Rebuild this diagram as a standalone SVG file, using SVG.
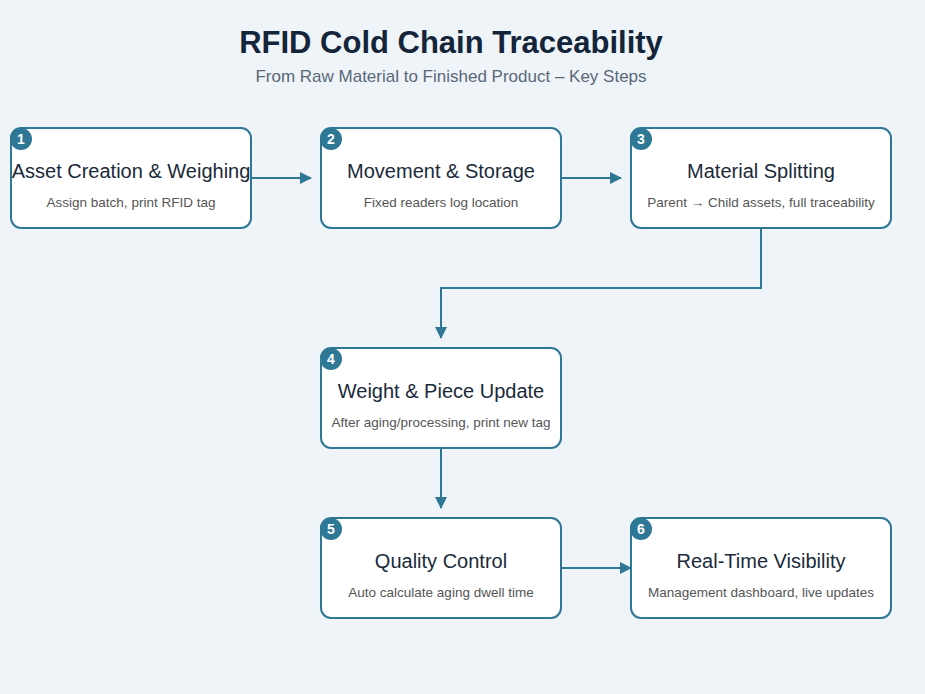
<svg xmlns="http://www.w3.org/2000/svg" width="925" height="694" viewBox="0 0 925 694">
<defs>
<marker id="ah" markerWidth="12" markerHeight="12" refX="11" refY="6" orient="auto" markerUnits="userSpaceOnUse"><path d="M0,0 L12,6 L0,12 z" fill="#2e7896"/></marker>
<style>
.box{fill:#fff;stroke:#2e7896;stroke-width:2}
.badge{fill:#2e7896}
.num{font:bold 14px "Liberation Sans",Arial,sans-serif;fill:#fff;text-anchor:middle}
.t{font:20px "Liberation Sans",Arial,sans-serif;fill:#1a2a3a;text-anchor:middle}
.s{font:13.5px "Liberation Sans",Arial,sans-serif;fill:#555;text-anchor:middle}
.c{fill:none;stroke:#2e7896;stroke-width:2}
</style>
</defs>
<rect width="925" height="694" fill="#eef4f8"/>
<text x="451" y="53" text-anchor="middle" style="font:bold 31px 'Liberation Sans',Arial,sans-serif;fill:#14253a">RFID Cold Chain Traceability</text>
<text x="451" y="82" text-anchor="middle" style="font:17px 'Liberation Sans',Arial,sans-serif;fill:#5a6878">From Raw Material to Finished Product – Key Steps</text>
<g id="connectors">
<path class="c" d="M251,178 H311" marker-end="url(#ah)"/>
<path class="c" d="M561,178 H621" marker-end="url(#ah)"/>
<path class="c" d="M761,228 V288 H441 V338" marker-end="url(#ah)"/>
<path class="c" d="M441,448 V508" marker-end="url(#ah)"/>
<path class="c" d="M561,568 H631" marker-end="url(#ah)"/>
</g>
<g id="n1"><rect class="box" x="11" y="128" width="240" height="100" rx="10"/><circle class="badge" cx="21" cy="139" r="11"/><text class="num" x="21" y="144">1</text><text class="t" x="131" y="178">Asset Creation &amp; Weighing</text><text class="s" x="131" y="207">Assign batch, print RFID tag</text></g>
<g id="n2"><rect class="box" x="321" y="128" width="240" height="100" rx="10"/><circle class="badge" cx="331" cy="139" r="11"/><text class="num" x="331" y="144">2</text><text class="t" x="441" y="178">Movement &amp; Storage</text><text class="s" x="441" y="207">Fixed readers log location</text></g>
<g id="n3"><rect class="box" x="631" y="128" width="260" height="100" rx="10"/><circle class="badge" cx="641" cy="139" r="11"/><text class="num" x="641" y="144">3</text><text class="t" x="761" y="178">Material Splitting</text><text class="s" x="761" y="207">Parent → Child assets, full traceability</text></g>
<g id="n4"><rect class="box" x="321" y="348" width="240" height="100" rx="10"/><circle class="badge" cx="331" cy="359" r="11"/><text class="num" x="331" y="364">4</text><text class="t" x="441" y="398">Weight &amp; Piece Update</text><text class="s" x="441" y="427">After aging/processing, print new tag</text></g>
<g id="n5"><rect class="box" x="321" y="518" width="240" height="100" rx="10"/><circle class="badge" cx="331" cy="529" r="11"/><text class="num" x="331" y="534">5</text><text class="t" x="441" y="568">Quality Control</text><text class="s" x="441" y="597">Auto calculate aging dwell time</text></g>
<g id="n6"><rect class="box" x="631" y="518" width="260" height="100" rx="10"/><circle class="badge" cx="641" cy="529" r="11"/><text class="num" x="641" y="534">6</text><text class="t" x="761" y="568">Real-Time Visibility</text><text class="s" x="761" y="597">Management dashboard, live updates</text></g>
</svg>
